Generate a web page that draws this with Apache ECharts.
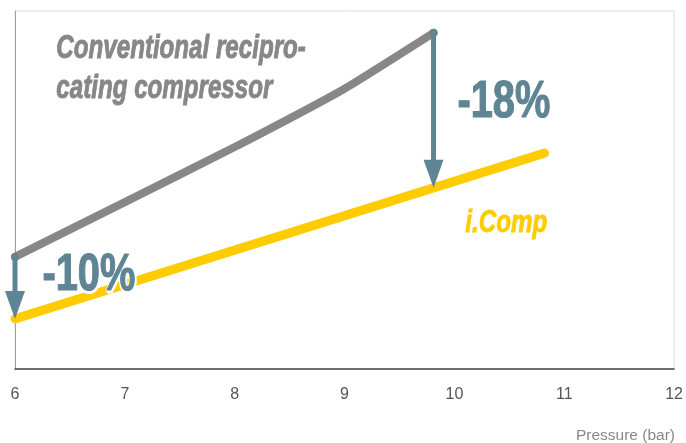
<!DOCTYPE html>
<html>
<head>
<meta charset="utf-8">
<script src="https://cdn.jsdelivr.net/npm/echarts@6/dist/echarts.min.js"></script>
<style>html,body{margin:0;padding:0;background:#fff;}#c{width:686px;height:443px;}</style>
</head>
<body>
<div id="c"></div>
<script>
// Pressure (bar) on x; relative power (arbitrary units, hidden axis) on y
const conventionalX = [6, 7, 8, 9, 9.81];
const conventionalY = [31.3, 46.6, 62.0, 78.3, 93.9];
const icompX = [6, 10.82];
const icompY = [14.0, 60.3];
// arrows: [x, fromY, toY]
const arrows = [[6, 31.3, 14.0], [9.81, 93.9, 50.6]];
const xTicks = [6, 7, 8, 9, 10, 11, 12];

const GRAY = '#878787', YELLOW = '#ffcc00', TEAL = '#5f8595';
const sans = "'Liberation Sans', Arial, sans-serif";

const chart = echarts.init(document.getElementById('c'));
chart.setOption({
  animation: false,
  grid: { left: 15, right: 11, top: 11, bottom: 74, show: true, borderColor: '#dddddd', borderWidth: 1 },
  xAxis: {
    type: 'value', min: xTicks[0], max: xTicks[xTicks.length - 1], interval: 1,
    axisLine: { show: true, lineStyle: { color: '#444', width: 1.5 } },
    axisTick: { show: false },
    splitLine: { show: false },
    axisLabel: { color: '#555', fontSize: 16, margin: 18, fontFamily: sans }
  },
  yAxis: {
    type: 'value', min: 0, max: 100,
    axisLine: { show: true, lineStyle: { color: '#a0a0a0', width: 1 } },
    axisTick: { show: false }, axisLabel: { show: false }, splitLine: { show: false }
  },
  series: [
    {
      type: 'line', data: icompX.map((x, i) => [x, icompY[i]]),
      symbol: 'none', lineStyle: { color: YELLOW, width: 9, cap: 'round' }, z: 2
    },
    {
      type: 'line', data: conventionalX.map((x, i) => [x, conventionalY[i]]),
      symbol: 'none', smooth: 0.15, lineStyle: { color: GRAY, width: 8, cap: 'round' }, z: 3
    },
    {
      type: 'custom', data: arrows, z: 4,
      renderItem: function (params, api) {
        const x = api.value(0);
        const p0 = api.coord([x, api.value(1)]);
        const p1 = api.coord([x, api.value(2)]);
        const hh = 28, hw = 10;
        return {
          type: 'group', children: [
            { type: 'circle', shape: { cx: p0[0], cy: p0[1], r: 4 }, style: { fill: TEAL } },
            { type: 'line', shape: { x1: p0[0], y1: p0[1], x2: p1[0], y2: p1[1] - hh + 2 }, style: { stroke: TEAL, lineWidth: 5 } },
            { type: 'polygon', shape: { points: [[p1[0] - hw, p1[1] - hh], [p1[0] + hw, p1[1] - hh], [p1[0], p1[1]]] }, style: { fill: TEAL } }
          ]
        };
      }
    }
  ],
  graphic: [
    { type: 'text', left: 56, top: 29, scaleX: 0.71, z: 10,
      style: { text: 'Conventional recipro-\ncating compressor', font: 'italic bold 34px ' + sans, fill: GRAY, stroke: GRAY, lineWidth: 1, lineHeight: 40 } },
    { type: 'text', left: 457, top: 77, scaleX: 0.78, z: 10,
      style: { text: '-18%', font: 'bold 51px ' + sans, fill: TEAL, stroke: TEAL, lineWidth: 1.2 } },
    { type: 'text', left: 41, top: 249, scaleX: 0.78, z: 10,
      style: { text: '-10%', font: 'bold 51px ' + sans, fill: '#fff', stroke: '#fff', lineWidth: 5 } },
    { type: 'text', left: 42, top: 250, scaleX: 0.78, z: 11,
      style: { text: '-10%', font: 'bold 51px ' + sans, fill: TEAL, stroke: TEAL, lineWidth: 1.2 } },
    { type: 'text', left: 465, top: 208, scaleX: 0.78, z: 10,
      style: { text: 'i.Comp', font: 'italic bold 31px ' + sans, fill: YELLOW, stroke: YELLOW, lineWidth: 0.8 } },
    { type: 'text', right: 11, top: 428, z: 10,
      style: { text: 'Pressure (bar)', font: '15.5px ' + sans, fill: '#888' } }
  ]
});
</script>
</body>
</html>
